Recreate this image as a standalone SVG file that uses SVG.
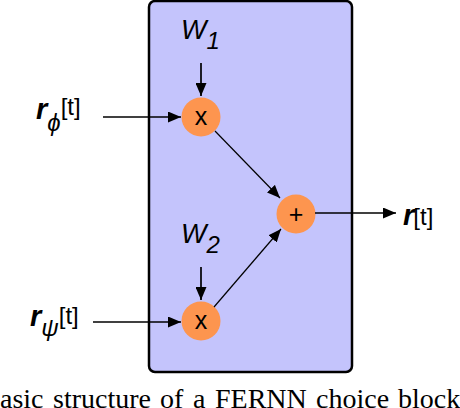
<svg xmlns="http://www.w3.org/2000/svg" width="460" height="408" viewBox="0 0 460 408">
<defs>
<marker id="ah" viewBox="0 0 13 11" refX="13" refY="5.5" markerWidth="13" markerHeight="11" markerUnits="userSpaceOnUse" orient="auto">
<path d="M0,0 L13,5.5 L0,11 Z" fill="#000"/>
</marker>
</defs>
<style>
.box{fill:#c4c4fc;stroke:#000;stroke-width:2.5}
.op{fill:#fd954f}
.sym{font-family:"Liberation Sans",Arial,sans-serif;font-size:25px;fill:#000;text-anchor:middle}
.lbl{font-family:"Liberation Sans",Arial,sans-serif;fill:#000}
.w{font-style:italic;font-size:27px}
.r{font-style:italic;font-weight:bold;font-size:29px}
.sub{font-style:italic;font-size:24px}
.br{font-size:24px}
.conn line{stroke:#000;stroke-width:1.7}
.conn line.thin{stroke-width:1.2}
.cap{font-family:"Liberation Serif","Times New Roman",serif;font-size:28px;fill:#000}
</style>
<g id="block"><rect class="box" x="149" y="1" width="203" height="371" rx="6"/></g>
<g id="mul1"><circle class="op" cx="201" cy="117" r="19.5"/><text class="sym" x="201" y="125">x</text></g>
<g id="mul2"><circle class="op" cx="201" cy="321" r="19.5"/><text class="sym" x="201" y="329">x</text></g>
<g id="sum"><circle class="op" cx="296" cy="214" r="19.5"/><text class="sym" x="296" y="223">+</text></g>
<g id="w1"><text class="lbl" x="181" y="39"><tspan class="w">W</tspan><tspan class="sub" dy="10">1</tspan></text></g>
<g id="w2"><text class="lbl" x="181" y="243"><tspan class="w">W</tspan><tspan class="sub" dy="10">2</tspan></text></g>
<g id="rphi"><text class="lbl" x="36" y="119"><tspan class="r">r</tspan><tspan class="sub" dy="12">ϕ</tspan><tspan class="br" dy="-16">[t]</tspan></text></g>
<g id="rpsi"><text class="lbl" x="30" y="326"><tspan class="r">r</tspan><tspan class="sub" dy="10">ψ</tspan><tspan class="br" dy="-12">[t]</tspan></text></g>
<g id="rout"><text class="lbl" x="403" y="225"><tspan class="r">r</tspan><tspan class="br" dx="-1">[t]</tspan></text></g>
<g class="conn">
<line x1="103" y1="117" x2="181" y2="117" marker-end="url(#ah)"/>
<line x1="93" y1="322" x2="181" y2="322" marker-end="url(#ah)"/>
<line x1="201" y1="63" x2="201" y2="96" marker-end="url(#ah)"/>
<line x1="201" y1="267" x2="201" y2="300" marker-end="url(#ah)"/>
<line class="thin" x1="215" y1="131" x2="280" y2="198" marker-end="url(#ah)"/>
<line class="thin" x1="214" y1="307" x2="281" y2="229" marker-end="url(#ah)"/>
<line x1="315" y1="213" x2="396" y2="213" marker-end="url(#ah)"/>
</g>
<text class="cap" y="408"><tspan x="0">asic</tspan><tspan x="53">structure</tspan><tspan x="160">of</tspan><tspan x="193">a</tspan><tspan x="215">FERNN</tspan><tspan x="316">choice</tspan><tspan x="398">block</tspan></text>
</svg>
